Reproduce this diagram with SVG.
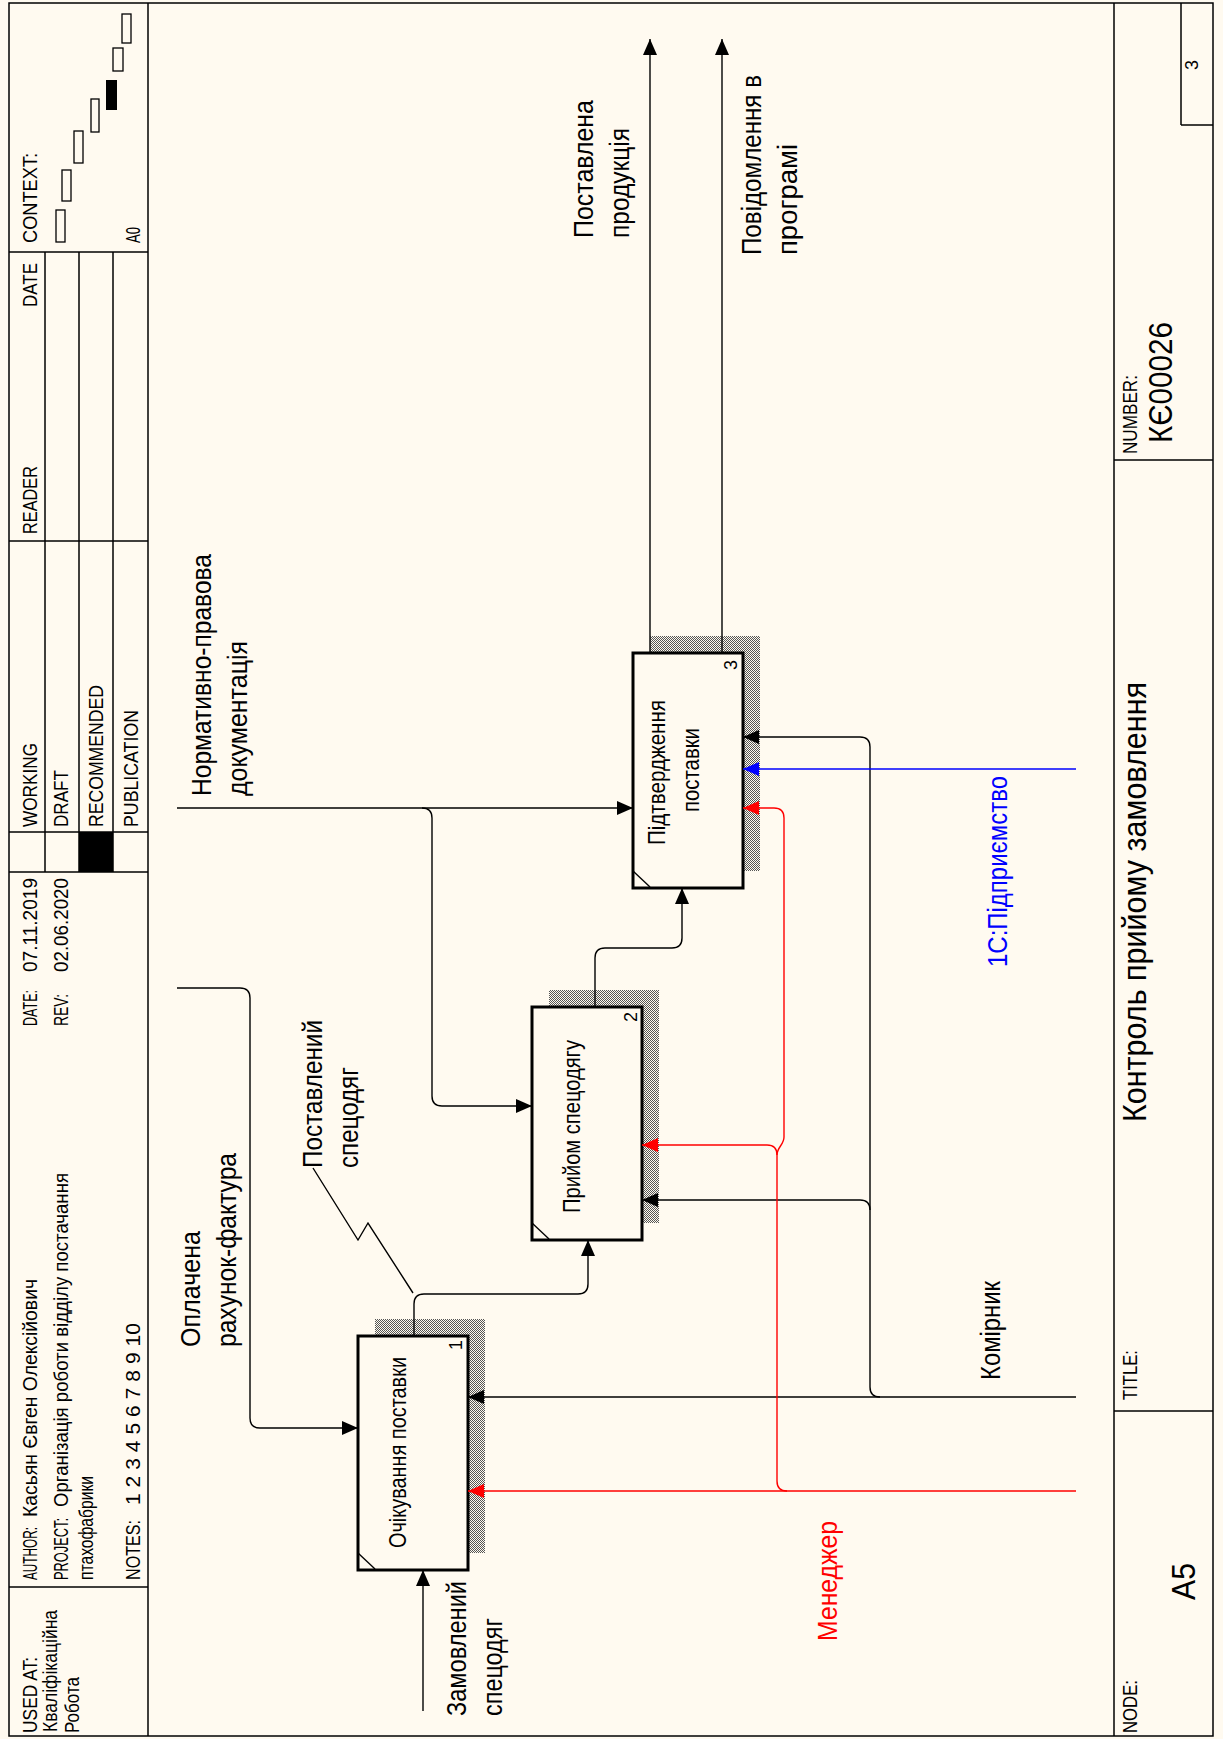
<svg xmlns="http://www.w3.org/2000/svg" width="1223" height="1739" viewBox="0 0 1223 1739">
<style>
.fr{stroke:#000;stroke-width:1.5;fill:none}
.ar{stroke:#000;stroke-width:1.4;fill:none}
.rd{stroke:#f00;stroke-width:1.4;fill:none}
.bl{stroke:#00f;stroke-width:1.4;fill:none}
.box{fill:#FFFAF0;stroke:#000;stroke-width:3}
.sh{fill:url(#hatch)}
.cx{fill:none;stroke:#000;stroke-width:1.3}
text{font-family:"Liberation Sans",Arial,sans-serif;fill:#000}
.hd{font-size:21px}
.lb{font-size:27px}
.bx{font-size:23px}
.nm{font-size:18px}
.big{font-size:34px}
</style>
<defs>
<pattern id="hatch" width="2" height="2" patternUnits="userSpaceOnUse">
<rect width="2" height="2" fill="#FFFAF0"/>
<rect width="1" height="1" fill="#555"/>
<rect x="1" y="1" width="1" height="1" fill="#555"/>
</pattern>
<marker id="ak" markerWidth="16" markerHeight="14" refX="16" refY="7" orient="auto" markerUnits="userSpaceOnUse"><path d="M0,0 L16,7 L0,14 z" fill="#000"/></marker>
<marker id="ar" markerWidth="16" markerHeight="14" refX="16" refY="7" orient="auto" markerUnits="userSpaceOnUse"><path d="M0,0 L16,7 L0,14 z" fill="#f00"/></marker>
<marker id="ab" markerWidth="16" markerHeight="14" refX="16" refY="7" orient="auto" markerUnits="userSpaceOnUse"><path d="M0,0 L16,7 L0,14 z" fill="#00f"/></marker>
</defs>
<rect width="1223" height="1739" fill="#FFFAF0"/>
<g id="sheet" transform="matrix(0,-1,1,0,0,1739)">
<g id="frame">
<rect class="fr" x="3" y="9" width="1733" height="1204"/>
<line class="fr" x1="3" y1="148" x2="1736" y2="148"/>
<line class="fr" x1="3" y1="1114" x2="1736" y2="1114"/>
<line class="fr" x1="152" y1="9" x2="152" y2="148"/>
<line class="fr" x1="867" y1="9" x2="867" y2="148"/>
<line class="fr" x1="907" y1="9" x2="907" y2="148"/>
<line class="fr" x1="1198" y1="9" x2="1198" y2="148"/>
<line class="fr" x1="1487" y1="9" x2="1487" y2="148"/>
<line class="fr" x1="867" y1="45" x2="1487" y2="45"/>
<line class="fr" x1="867" y1="79" x2="1487" y2="79"/>
<line class="fr" x1="867" y1="113" x2="1487" y2="113"/>
<rect x="867" y="79" width="40" height="34" fill="#000"/>
<line class="fr" x1="328" y1="1114" x2="328" y2="1213"/>
<line class="fr" x1="1279" y1="1114" x2="1279" y2="1213"/>
<line class="fr" x1="1614" y1="1181" x2="1614" y2="1213"/>
<line class="fr" x1="1614" y1="1181" x2="1736" y2="1181"/>
<rect class="cx" x="1497" y="56" width="32" height="9"/>
<rect class="cx" x="1538" y="62" width="31" height="9"/>
<rect class="cx" x="1576" y="74" width="32" height="9"/>
<rect class="cx" x="1607" y="91" width="33" height="8"/>
<rect x="1629" y="106" width="30" height="11" fill="#000"/>
<rect class="cx" x="1668" y="113" width="23" height="10"/>
<rect class="cx" x="1696" y="122" width="29" height="9"/>
</g>
<g id="header-text">
<text class="hd" x="6" y="37" textLength="76" lengthAdjust="spacingAndGlyphs">USED AT:</text>
<text class="hd" x="7" y="57" textLength="122" lengthAdjust="spacingAndGlyphs">Кваліфікаційна</text>
<text class="hd" x="6" y="79" textLength="56" lengthAdjust="spacingAndGlyphs">Робота</text>
<text class="hd" x="159" y="37" textLength="53" lengthAdjust="spacingAndGlyphs">AUTHOR:</text>
<text class="hd" x="222" y="37" textLength="238" lengthAdjust="spacingAndGlyphs">Касьян Євген Олексійович</text>
<text class="hd" x="159" y="68" textLength="62" lengthAdjust="spacingAndGlyphs">PROJECT:</text>
<text class="hd" x="232" y="68" textLength="334" lengthAdjust="spacingAndGlyphs">Організація роботи відділу постачання</text>
<text class="hd" x="159" y="93" textLength="104" lengthAdjust="spacingAndGlyphs">птахофабрики</text>
<text class="hd" x="159" y="140" textLength="60" lengthAdjust="spacingAndGlyphs">NOTES:</text>
<text class="hd" x="234" y="140" textLength="182" lengthAdjust="spacing">1 2 3 4 5 6 7 8 9 10</text>
<text class="hd" x="713" y="37" textLength="36" lengthAdjust="spacingAndGlyphs">DATE:</text>
<text class="hd" x="767" y="37" textLength="94" lengthAdjust="spacingAndGlyphs">07.11.2019</text>
<text class="hd" x="713" y="68" textLength="32" lengthAdjust="spacingAndGlyphs">REV:</text>
<text class="hd" x="767" y="68" textLength="94" lengthAdjust="spacingAndGlyphs">02.06.2020</text>
<text class="hd" x="912" y="37" textLength="84" lengthAdjust="spacingAndGlyphs">WORKING</text>
<text class="hd" x="912" y="68" textLength="57" lengthAdjust="spacingAndGlyphs">DRAFT</text>
<text class="hd" x="912" y="103" textLength="142" lengthAdjust="spacingAndGlyphs">RECOMMENDED</text>
<text class="hd" x="912" y="138" textLength="117" lengthAdjust="spacingAndGlyphs">PUBLICATION</text>
<text class="hd" x="1205" y="37" textLength="68" lengthAdjust="spacingAndGlyphs">READER</text>
<text class="hd" x="1432" y="37" textLength="44" lengthAdjust="spacingAndGlyphs">DATE</text>
<text class="hd" x="1496" y="37" textLength="90" lengthAdjust="spacingAndGlyphs">CONTEXT:</text>
<text class="hd" x="1496" y="140" textLength="16" lengthAdjust="spacingAndGlyphs">A0</text>
</g>
<g id="footer-text">
<text class="hd" x="6" y="1137" textLength="53" lengthAdjust="spacingAndGlyphs">NODE:</text>
<text class="big" x="139" y="1195" textLength="37" lengthAdjust="spacingAndGlyphs">A5</text>
<text class="hd" x="339" y="1137" textLength="50" lengthAdjust="spacingAndGlyphs">TITLE:</text>
<text class="big" x="617" y="1146" textLength="440" lengthAdjust="spacingAndGlyphs">Контроль прийому замовлення</text>
<text class="hd" x="1285" y="1137" textLength="79" lengthAdjust="spacingAndGlyphs">NUMBER:</text>
<text class="big" x="1296" y="1172" textLength="121" lengthAdjust="spacingAndGlyphs">КЄ00026</text>
<text class="nm" x="1669" y="1198">3</text>
</g>
<g id="node1">
<rect class="sh" x="186" y="375" width="234" height="110"/>
<rect class="box" x="169" y="358" width="234" height="110"/>
<line class="ar" x1="186" y1="358" x2="170" y2="375" stroke-width="2"/>
<text class="bx" x="191" y="406" textLength="191" lengthAdjust="spacingAndGlyphs">Очікування поставки</text>
<text class="nm" x="389" y="462">1</text>
</g>
<g id="node2">
<rect class="sh" x="516" y="549" width="233" height="110"/>
<rect class="box" x="499" y="532" width="233" height="110"/>
<line class="ar" x1="516" y1="532" x2="500" y2="549" stroke-width="2"/>
<text class="bx" x="526" y="580" textLength="173" lengthAdjust="spacingAndGlyphs">Прийом спецодягу</text>
<text class="nm" x="717" y="637">2</text>
</g>
<g id="node3">
<rect class="sh" x="868" y="650" width="235" height="110"/>
<rect class="box" x="851" y="633" width="235" height="110"/>
<line class="ar" x1="868" y1="633" x2="852" y2="650" stroke-width="2"/>
<text class="bx" x="894" y="665" textLength="145" lengthAdjust="spacingAndGlyphs">Підтвердження</text>
<text class="bx" x="927" y="699" textLength="84" lengthAdjust="spacingAndGlyphs">поставки</text>
<text class="nm" x="1069" y="737">3</text>
</g>
<g id="connectors">
<path class="ar" d="M751 177 L751 240 Q751 250 741 250 L321 250 Q311 250 311 260 L311 358" marker-end="url(#ak)"/>
<path class="ar" d="M931 177 L931 633" marker-end="url(#ak)"/>
<path class="ar" d="M931 422 Q931 432 921 432 L643 432 Q633 432 633 442 L633 532" marker-end="url(#ak)"/>
<path class="ar" d="M28 423 L169 423" marker-end="url(#ak)"/>
<path class="ar" d="M403 414 L435 414 Q445 414 445 424 L445 578 Q445 588 455 588 L499 588" marker-end="url(#ak)"/>
<path class="ar" d="M732 595 L781 595 Q791 595 791 605 L791 672 Q791 682 801 682 L851 682" marker-end="url(#ak)"/>
<path class="ar" d="M1086 650 L1700 650" marker-end="url(#ak)"/>
<path class="ar" d="M1086 722 L1700 722" marker-end="url(#ak)"/>
<path class="ar" d="M342 1076 L342 468" marker-end="url(#ak)"/>
<path class="ar" d="M342 880 Q342 870 352 870 L992 870 Q1002 870 1002 860 L1002 743" marker-end="url(#ak)"/>
<path class="ar" d="M529 870 Q539 870 539 860 L539 642" marker-end="url(#ak)"/>
<path class="rd" d="M248 1076 L248 468" marker-end="url(#ar)"/>
<path class="rd" d="M248 787 Q248 777 258 777 L584 777 Q594 777 594 767 L594 642" marker-end="url(#ar)"/>
<path class="rd" d="M584 777 C592 777 594 784 602 784 L921 784 Q931 784 931 774 L931 743" marker-end="url(#ar)"/>
<path class="bl" d="M970 1076 L970 743" marker-end="url(#ab)"/>
<path class="ar" d="M571 313 L499 358 L516 368 L446 413"/>
</g>
<g id="labels">
<text class="lb" x="23" y="466" textLength="135" lengthAdjust="spacingAndGlyphs">Замовлений</text>
<text class="lb" x="23" y="502" textLength="98" lengthAdjust="spacingAndGlyphs">спецодяг</text>
<text class="lb" x="392" y="200" textLength="116" lengthAdjust="spacingAndGlyphs">Оплачена</text>
<text class="lb" x="392" y="236" textLength="194" lengthAdjust="spacingAndGlyphs">рахунок-фактура</text>
<text class="lb" x="571" y="322" textLength="148" lengthAdjust="spacingAndGlyphs">Поставлений</text>
<text class="lb" x="571" y="358" textLength="101" lengthAdjust="spacingAndGlyphs">спецодяг</text>
<text class="lb" x="943" y="211" textLength="242" lengthAdjust="spacingAndGlyphs">Нормативно-правова</text>
<text class="lb" x="943" y="247" textLength="155" lengthAdjust="spacingAndGlyphs">документація</text>
<text class="lb" x="1501" y="593" textLength="138" lengthAdjust="spacingAndGlyphs">Поставлена</text>
<text class="lb" x="1501" y="629" textLength="110" lengthAdjust="spacingAndGlyphs">продукція</text>
<text class="lb" x="1484" y="761" textLength="180" lengthAdjust="spacingAndGlyphs">Повідомлення в</text>
<text class="lb" x="1484" y="797" textLength="111" lengthAdjust="spacingAndGlyphs">програмі</text>
<text class="lb" x="359" y="1000" textLength="99" lengthAdjust="spacingAndGlyphs">Комірник</text>
<text class="lb" x="98" y="837" textLength="120" lengthAdjust="spacingAndGlyphs" style="fill:#f00">Менеджер</text>
<text class="lb" x="772" y="1007" textLength="191" lengthAdjust="spacingAndGlyphs" style="fill:#00f">1С:Підприємство</text>
</g>
</g>
</svg>
